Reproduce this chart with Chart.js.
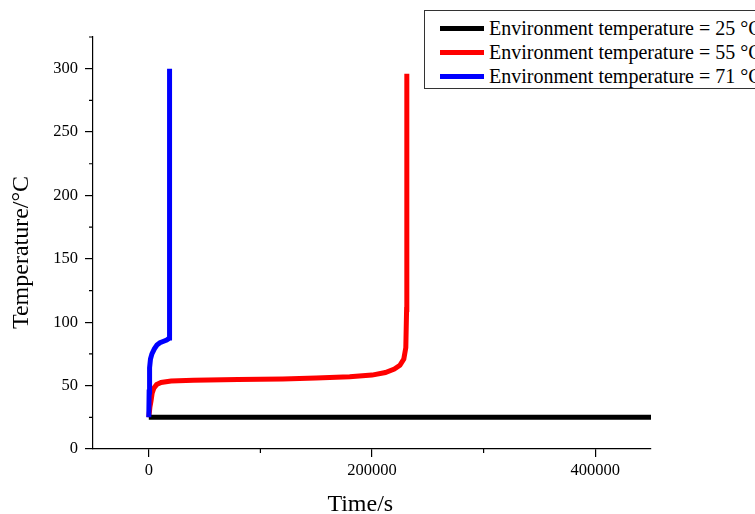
<!DOCTYPE html>
<html lang="en">
<head>
    <meta charset="UTF-8">
    <title>Temperature vs Time</title>
    <script src="https://cdn.jsdelivr.net/npm/chart.js"></script>
    <style>
        body { margin: 0; background: #fff; }
        #wrap { position: relative; width: 755px; height: 514px; overflow: hidden; }
        #legend {
            position: absolute; left: 424px; top: 10px; width: 330px; height: 77px;
            border: 1px solid #333; background: #fff; overflow: hidden;
            font-family: "Liberation Serif", "Times New Roman", serif; font-size: 20px; color: #000;
        }
        .row { position: absolute; left: 15px; height: 24px; white-space: nowrap; display: flex; align-items: center; }
        .swatch { width: 44px; height: 5px; margin-right: 5px; flex: none; }
    </style>
</head>
<body>
    <div id="wrap">
        <canvas id="chart" width="755" height="514"></canvas>
        <div id="legend"></div>
    </div>
    <script>
        // series: environment temperature 25 / 55 / 71 °C
        const labels = ['Environment temperature = 25 °C', 'Environment temperature = 55 °C', 'Environment temperature = 71 °C'];
        const colors = ['#000000', '#ff0000', '#0000ff'];

        const time25 = [0, 100000, 200000, 300000, 450000];
        const temp25 = [25, 25, 25, 25, 25];

        const time55 = [0, 1000, 2000, 3000, 4500, 7000, 11000, 20000, 40000, 80000, 120000, 150000, 180000, 200000, 212000, 220000, 225000, 228500, 230300, 231000, 231200];
        const temp55 = [25, 33, 38, 44, 48, 50.8, 52.5, 53.6, 54.3, 54.9, 55.3, 56, 57, 58.3, 60.3, 63, 66, 71, 80, 110, 296];

        const time71 = [0, 300, 700, 1500, 2800, 5000, 7300, 10000, 13300, 16000, 18500, 18600];
        const temp71 = [25, 45, 64, 71, 75, 79, 82, 83.8, 85, 86, 87.5, 300];

        const xTicks = [0, 200000, 400000];
        const yTicks = [0, 50, 100, 150, 200, 250, 300];
        const xMinor = [100000, 300000];
        const yMinor = [25, 75, 125, 175, 225, 275, 325];
        const xTitle = 'Time/s';
        const yTitle = 'Temperature/°C';

        const serif = "'Liberation Serif', 'Times New Roman', serif";

        function pts(xs, ys) {
            return xs.map((x, i) => ({ x: x, y: ys[i] }));
        }

        // short minor ticks plus the two axis titles
        const extras = {
            id: 'extras',
            afterDraw(chart) {
                const { ctx, scales: { x, y } } = chart;
                ctx.save();
                ctx.strokeStyle = '#000';
                ctx.lineWidth = 1.2;
                ctx.beginPath();
                xMinor.forEach(v => {
                    const px = x.getPixelForValue(v);
                    ctx.moveTo(px, x.top); ctx.lineTo(px, x.top + 4);
                });
                yMinor.forEach(v => {
                    const py = y.getPixelForValue(v);
                    ctx.moveTo(y.right, py); ctx.lineTo(y.right - 4, py);
                });
                ctx.stroke();

                ctx.fillStyle = '#000';
                ctx.font = '24px ' + serif;
                ctx.textAlign = 'center';
                ctx.textBaseline = 'alphabetic';
                ctx.fillText(xTitle, x.left + (x.right - x.left) * 0.479, 510.5);
                ctx.translate(28, y.top + (y.bottom - y.top) * 0.523);
                ctx.rotate(-Math.PI / 2);
                ctx.fillText(yTitle, 0, 0);
                ctx.restore();
            }
        };

        const series = [[time25, temp25], [time55, temp55], [time71, temp71]];
        const drawOrder = [1, 2, 0]; // blue on top

        new Chart(document.getElementById('chart'), {
            type: 'scatter',
            data: {
                datasets: series.map((s, i) => ({
                    label: labels[i],
                    data: pts(s[0], s[1]),
                    showLine: true,
                    borderColor: colors[i],
                    backgroundColor: colors[i],
                    borderWidth: 5,
                    pointRadius: 0,
                    tension: 0,
                    order: drawOrder[i]
                }))
            },
            options: {
                responsive: false,
                animation: false,
                layout: { padding: { left: 0, right: 104, top: 37, bottom: 0 } },
                plugins: { legend: { display: false }, tooltip: { enabled: false } },
                scales: {
                    x: {
                        type: 'linear',
                        min: -50000, max: 450000,
                        afterFit: s => { s.height = 65; },
                        afterBuildTicks: s => { s.ticks = xTicks.map(v => ({ value: v })); },
                        grid: { drawOnChartArea: false, drawTicks: true, tickLength: 8, color: '#000', lineWidth: 1.2 },
                        border: { display: true, color: '#000', width: 1.2 },
                        ticks: { color: '#000', padding: 4, maxRotation: 0, font: { family: serif, size: 16.5 }, callback: v => String(v) },
                        title: { display: false }
                    },
                    y: {
                        min: 0, max: 325,
                        afterFit: s => { s.width = 93; },
                        afterBuildTicks: s => { s.ticks = yTicks.map(v => ({ value: v })); },
                        grid: { drawOnChartArea: false, drawTicks: true, tickLength: 8, color: '#000', lineWidth: 1.2 },
                        border: { display: true, color: '#000', width: 1.2 },
                        ticks: { color: '#000', padding: 7, font: { family: serif, size: 16.5 } },
                        title: { display: false }
                    }
                }
            },
            plugins: [extras]
        });

        // legend box, clipped at the right edge like the original
        const legend = document.getElementById('legend');
        labels.forEach((t, i) => {
            const row = document.createElement('div');
            row.className = 'row';
            row.style.top = (5 + i * 24) + 'px';
            row.innerHTML = '<span class="swatch" style="background:' + colors[i] + '"></span><span>' + t + '</span>';
            legend.appendChild(row);
        });
    </script>
</body>
</html>
